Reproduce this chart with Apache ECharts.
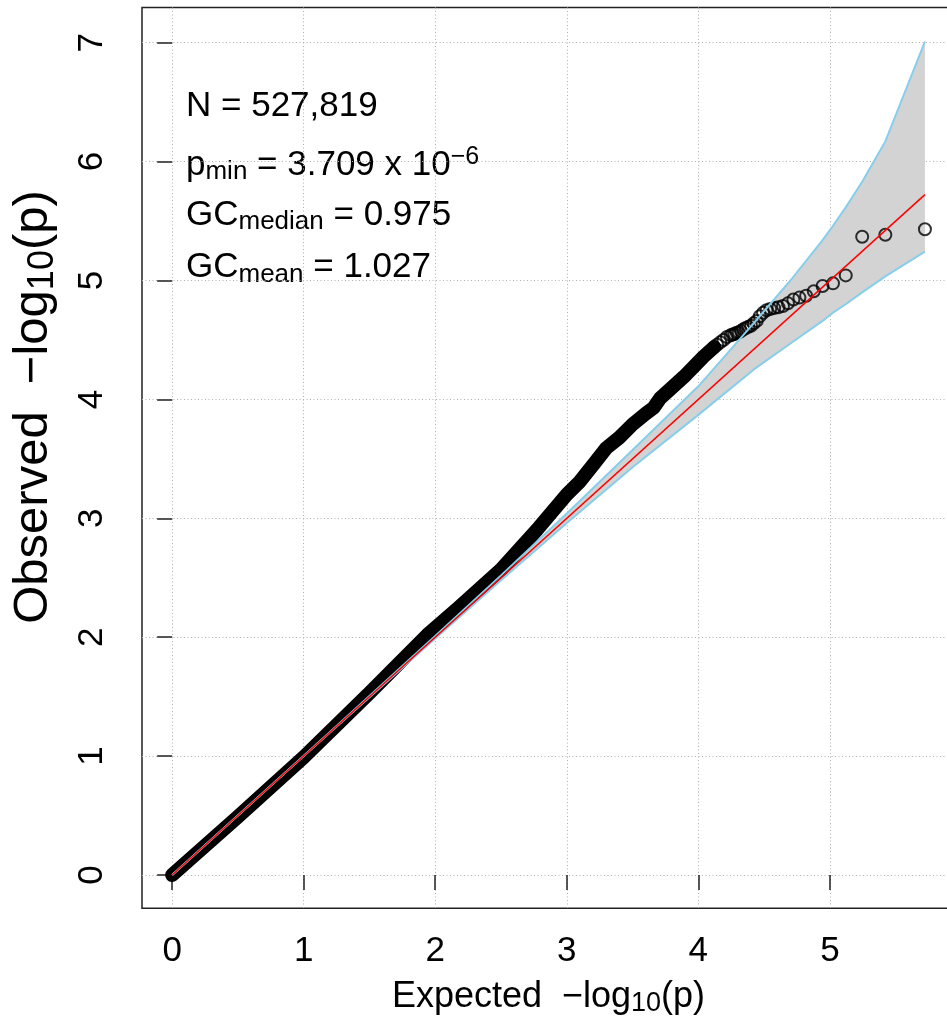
<!DOCTYPE html>
<html>
<head>
<meta charset="utf-8">
<script src="https://cdn.jsdelivr.net/npm/echarts@6/dist/echarts.min.js"></script>
<style>
  html, body { margin: 0; padding: 0; background: #fff; }
  #qq { width: 947px; height: 1023px; }
</style>
</head>
<body>
<div id="qq"></div>
<script>
// tick positions
var xTicks = [0, 1, 2, 3, 4, 5];
var yTicks = [0, 1, 2, 3, 4, 5, 6, 7];

// dense part of the points (expected, observed) - drawn as a thick band
var denseExp = [0, 0.5, 1.0, 1.5, 1.94, 2.17, 2.5, 2.77, 3.0, 3.1, 3.2, 3.3, 3.4, 3.5, 3.6, 3.66, 3.71, 3.8, 3.89, 4.04, 4.12];
var denseObs = [0, 0.49, 0.99, 1.53, 2.02, 2.24, 2.57, 2.90, 3.20, 3.31, 3.45, 3.59, 3.68, 3.79, 3.88, 3.93, 4.01, 4.10, 4.19, 4.36, 4.44];

// upper tail, single points
var tailExp = [5.7225, 5.4215, 5.2454, 5.1205, 5.0236, 4.9444, 4.8775, 4.8195, 4.7683, 4.7225,
               4.6811, 4.6433, 4.6086, 4.5764, 4.5464, 4.5184, 4.4920, 4.4672, 4.4437, 4.4214,
               4.4003, 4.3800, 4.3607, 4.3422, 4.3245, 4.3075, 4.2911, 4.2753, 4.2601, 4.2454,
               4.2173, 4.1910, 4.1662, 4.1427, 4.1204];
var tailObs = [5.431, 5.385, 5.368, 5.043, 4.976, 4.954, 4.910, 4.872, 4.856, 4.840,
               4.808, 4.785, 4.775, 4.768, 4.760, 4.750, 4.728, 4.700, 4.660, 4.640,
               4.620, 4.610, 4.600, 4.590, 4.575, 4.565, 4.560, 4.550, 4.545, 4.540,
               4.525, 4.500, 4.480, 4.460, 4.440];

// confidence band
var bandExp = [0, 1, 2, 2.5, 3.0, 3.5, 4.0, 4.42, 4.70, 4.9444, 5.0236, 5.1205, 5.2454, 5.4215, 5.7225];
var bandUp  = [0, 1.0, 2.01, 2.52, 3.04, 3.575, 4.11, 4.64, 5.0, 5.34, 5.46, 5.615, 5.83, 6.17, 7.01];
var bandLo  = [0, 1.0, 1.99, 2.48, 2.96, 3.43, 3.87, 4.25, 4.47, 4.66, 4.73, 4.80, 4.90, 5.035, 5.242];

var nMax = 5.7225;

var font = 'Liberation Sans';

function pairs(xs, ys) {
    return xs.map(function (x, i) { return [x, ys[i]]; });
}

var xTitleRich = {
    a: { fontSize: 36, fontFamily: font, color: '#000', lineHeight: 40 },
    s: { fontSize: 27, fontFamily: font, color: '#000', lineHeight: 14, verticalAlign: 'bottom' }
};
var yTitleRich = {
    a: { fontSize: 49, fontFamily: font, fill: '#000', lineHeight: 56 },
    s: { fontSize: 36, fontFamily: font, fill: '#000', lineHeight: 19, verticalAlign: 'bottom' }
};
var noteRich = {
    a: { fontSize: 35, fontFamily: font, fill: '#000', lineHeight: 40 },
    s: { fontSize: 26, fontFamily: font, fill: '#000', lineHeight: 23, verticalAlign: 'bottom' },
    u: { fontSize: 25, fontFamily: font, fill: '#000', lineHeight: 12, verticalAlign: 'top' }
};

var chart = echarts.init(document.getElementById('qq'));
var option = {
    animation: false,
    backgroundColor: '#fff',
    grid: {
        left: 142, right: -8, top: 7.5, bottom: 114.7,
        outerBoundsMode: 'none',
        containLabel: false,
        show: true, borderColor: '#222', borderWidth: 1.5
    },
    xAxis: {
        type: 'value', min: -0.229, max: 5.951,
        axisLine: { show: false },
        axisTick: { show: true, length: 15, customValues: xTicks, lineStyle: { color: '#222', width: 1.5 } },
        axisLabel: { customValues: xTicks, fontSize: 35, fontFamily: font, color: '#000', margin: 26 },
        splitLine: { show: true, lineStyle: { color: '#b0b0b0', width: 1, type: [1, 2.5] } },
        name: '{a|Expected  −log}{s|10}{a|(p)}',
        nameLocation: 'middle',
        nameGap: 69,
        nameTextStyle: { rich: xTitleRich }
    },
    yAxis: {
        type: 'value', min: -0.28, max: 7.296,
        axisLine: { show: false },
        axisTick: { show: true, length: 15, customValues: yTicks, lineStyle: { color: '#222', width: 1.5 } },
        axisLabel: { customValues: yTicks, fontSize: 35, fontFamily: font, color: '#000', margin: 32, rotate: 90 },
        splitLine: { show: true, lineStyle: { color: '#b0b0b0', width: 1, type: [1, 2.5] } }
    },
    graphic: [
        {
            type: 'text', x: 33, y: 407, rotation: Math.PI / 2,
            style: {
                text: '{a|Observed  −log}{s|10}{a|(p)}',
                align: 'center', verticalAlign: 'middle',
                rich: yTitleRich
            }
        },
        {
            type: 'text', x: 186, y: 86.7,
            style: { text: '{a|N = 527,819}', rich: noteRich }
        },
        {
            type: 'text', x: 186, y: 145,
            style: { text: '{a|p}{s|min}{a| = 3.709 x 10}{u|−6}', rich: noteRich }
        },
        {
            type: 'text', x: 186, y: 195,
            style: { text: '{a|GC}{s|median}{a| = 0.975}', rich: noteRich }
        },
        {
            type: 'text', x: 186, y: 247.7,
            style: { text: '{a|GC}{s|mean}{a| = 1.027}', rich: noteRich }
        }
    ],
    series: [
        {
            // grey confidence region
            type: 'custom',
            z: 1,
            silent: true,
            data: [0],
            renderItem: function (params, api) {
                var pts = [];
                bandExp.forEach(function (x, i) { pts.push(api.coord([x, bandLo[i]])); });
                for (var i = bandExp.length - 1; i >= 0; i--) pts.push(api.coord([bandExp[i], bandUp[i]]));
                return { type: 'polygon', shape: { points: pts }, style: { fill: '#d3d3d3' } };
            }
        },
        {
            type: 'line', z: 2, silent: true, symbol: 'none',
            data: pairs(denseExp, denseObs),
            lineStyle: { color: '#000', width: 14, cap: 'round', join: 'round' }
        },
        {
            type: 'scatter', z: 3, silent: true,
            symbol: 'circle', symbolSize: 12,
            data: pairs(tailExp, tailObs),
            itemStyle: { color: 'rgba(0,0,0,0)', borderColor: '#000', borderWidth: 2 }
        },
        {
            type: 'line', z: 4, silent: true, symbol: 'none',
            data: pairs(bandExp, bandUp),
            lineStyle: { color: '#87ceeb', width: 2 }
        },
        {
            type: 'line', z: 4, silent: true, symbol: 'none',
            data: pairs(bandExp, bandLo),
            lineStyle: { color: '#87ceeb', width: 2 }
        },
        {
            type: 'line', z: 5, silent: true, symbol: 'none',
            data: [[0, 0], [nMax, nMax]],
            lineStyle: { color: '#ff0000', width: 1.5 }
        }
    ]
};
chart.setOption(option);
</script>
</body>
</html>
